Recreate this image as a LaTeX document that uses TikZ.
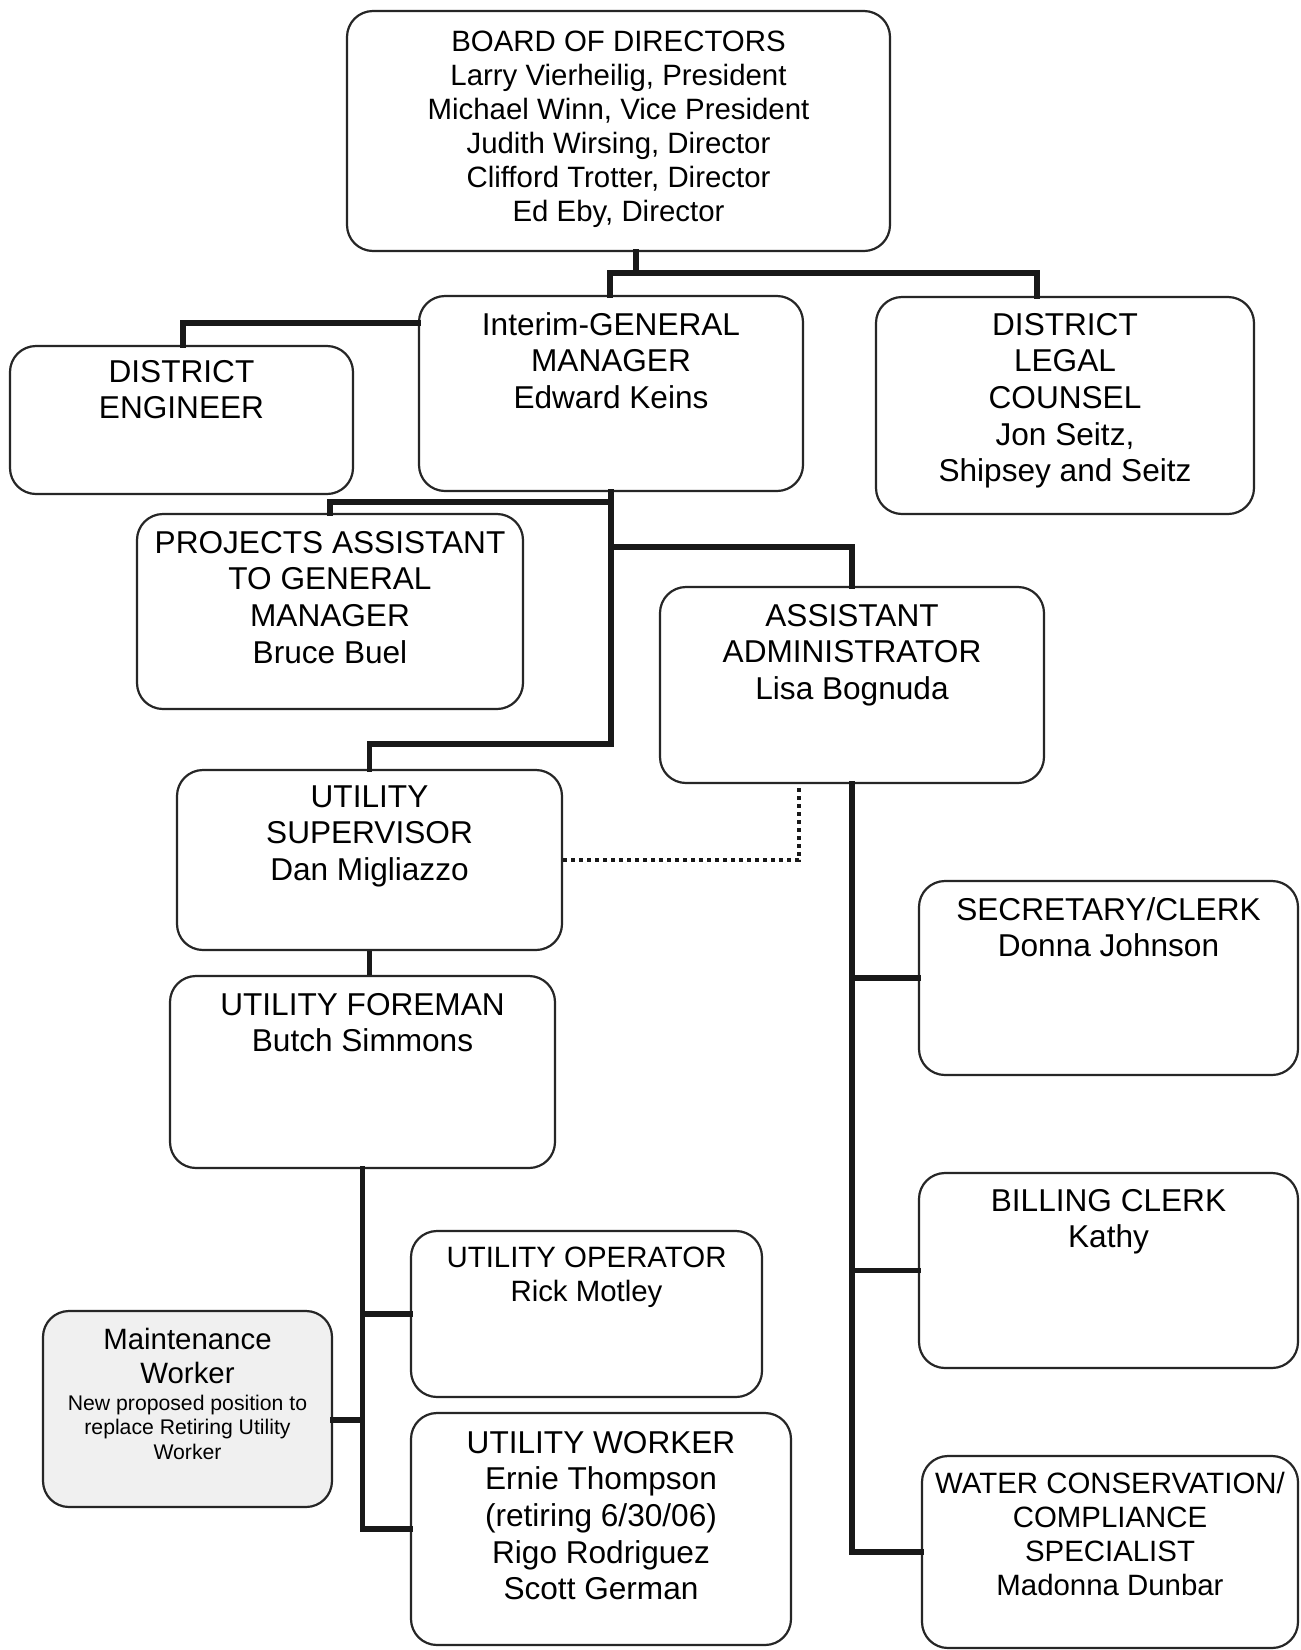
\documentclass[tikz,border=0pt]{standalone}
\usepackage{fontspec}
\setmainfont{Liberation Sans}
\begin{document}
\begin{tikzpicture}[x=0.5pt,y=-0.5pt,
  box/.style={draw=black!85, line width=1.1pt, rounded corners=13pt, fill=white, inner sep=0pt},
  bigtxt/.style={anchor=north, inner sep=0pt, align=center, font=\fontsize{15.8}{18.3}\selectfont},
  smltxt/.style={anchor=north, inner sep=0pt, align=center, font=\fontsize{14.7}{17}\selectfont},
  tinytxt/.style={anchor=north, inner sep=0pt, align=center, font=\fontsize{10.6}{12.1}\selectfont},
  conn/.style={line width=2.9pt, black!90, line cap=rect},
  thinconn/.style={line width=2.2pt, black!90},
  dotconn/.style={line width=2pt, black!90, dash pattern=on 2pt off 2pt}
]
\useasboundingbox (0,0) rectangle (1301,1650);
\fill[white] (0,0) rectangle (1301,1650);

% boxes
\node[box, minimum width=271.5pt, minimum height=120pt] (board) at (618.5,131) {};
\node[box, minimum width=171.5pt, minimum height=74pt] (de) at (181.5,420) {};
\node[box, minimum width=192pt, minimum height=97.5pt] (gm) at (611,393.5) {};
\node[box, minimum width=189pt, minimum height=108.5pt] (legal) at (1065,405.5) {};
\node[box, minimum width=193pt, minimum height=97.5pt] (pa) at (330,611.5) {};
\node[box, minimum width=192pt, minimum height=98pt] (aa) at (852,685) {};
\node[box, minimum width=192.5pt, minimum height=90pt] (us) at (369.5,860) {};
\node[box, minimum width=192.5pt, minimum height=96pt] (uf) at (362.5,1072) {};
\node[box, minimum width=189.5pt, minimum height=97pt] (sec) at (1108.5,978) {};
\node[box, minimum width=189.5pt, minimum height=97.5pt] (bill) at (1108.5,1270.5) {};
\node[box, minimum width=188pt, minimum height=96pt] (water) at (1110,1552) {};
\node[box, minimum width=175.5pt, minimum height=83pt] (op) at (586.5,1314) {};
\node[box, minimum width=190pt, minimum height=116pt] (uw) at (601,1529) {};
\node[box, fill=black!6, minimum width=144.5pt, minimum height=98pt] (mw) at (187.5,1409) {};

% texts
\node[smltxt] (tboard) at ([yshift=-10.5pt]board.north) {BOARD OF DIRECTORS\\Larry Vierheilig, President\\Michael Winn, Vice President\\Judith Wirsing, Director\\Clifford Trotter, Director\\Ed Eby, Director};
\node[bigtxt] (tgm) at ([yshift=-8.5pt]gm.north) {Interim-GENERAL\\MANAGER\\Edward Keins};
\node[bigtxt] (tde) at ([yshift=-7.5pt]de.north) {DISTRICT\\ENGINEER};
\node[bigtxt] (tlegal) at ([yshift=-8.5pt]legal.north) {DISTRICT\\LEGAL\\COUNSEL\\Jon Seitz,\\Shipsey and Seitz};
\node[bigtxt] (tpa) at ([yshift=-9pt]pa.north) {PROJECTS ASSISTANT\\TO GENERAL\\MANAGER\\Bruce Buel};
\node[bigtxt] (taa) at ([yshift=-9pt]aa.north) {ASSISTANT\\ADMINISTRATOR\\Lisa Bognuda};
\node[bigtxt] (tus) at ([yshift=-8pt]us.north) {UTILITY\\SUPERVISOR\\Dan Migliazzo};
\node[bigtxt] (tuf) at ([yshift=-9pt]uf.north) {UTILITY FOREMAN\\Butch Simmons};
\node[bigtxt] (tsec) at ([yshift=-8.5pt]sec.north) {SECRETARY/CLERK\\Donna Johnson};
\node[bigtxt] (tbill) at ([yshift=-8.5pt]bill.north) {BILLING CLERK\\Kathy};
\node[smltxt] (twater) at ([yshift=-8.5pt]water.north) {WATER CONSERVATION/\\COMPLIANCE\\SPECIALIST\\Madonna Dunbar};
\node[smltxt] (top) at ([yshift=-8.5pt]op.north) {UTILITY OPERATOR\\Rick Motley};
\node[bigtxt] (tuw) at ([yshift=-9.5pt]uw.north) {UTILITY WORKER\\Ernie Thompson\\(retiring 6/30/06)\\Rigo Rodriguez\\Scott German};
\node[smltxt] (tmw) at ([yshift=-9pt]mw.north) {Maintenance\\Worker};
\node[tinytxt] (tmw2) at ([yshift=-42.5pt]mw.north) {New proposed position to\\replace Retiring Utility\\Worker};

% connectors
\coordinate (j1) at (636,273);
\coordinate (j2) at (611,744);
\draw[conn] (j1 |- board.south) -- (j1);
\draw[conn] (gm.north -| 610,0) |- (j1) -| (legal.north -| 1037,0);
\draw[conn] (gm.west |- 0,323) -| (de.north -| 183,0);
\draw[conn] (gm.south) -- (j2) -| (us.north);
\draw[conn] (gm.south |- 0,502) -| (pa.north);
\draw[conn] (gm.south |- 0,547) -| (aa.north);
\draw[thinconn] (us.south) -- (us.south |- uf.north);
\draw[dotconn] (us.east) -| (aa.south -| 799,0);
\draw[conn] (aa.south) |- (water.west);
\draw[conn] (aa.south |- sec.west) -- (sec.west);
\draw[conn] (aa.south |- bill.west) -- (bill.west);
\draw[conn] (uf.south) |- (uw.west);
\draw[conn] (uf.south |- op.west) -- (op.west);
\draw[conn] (mw.east |- 0,1420) -- (uf.south |- 0,1420);
\end{tikzpicture}
\end{document}
